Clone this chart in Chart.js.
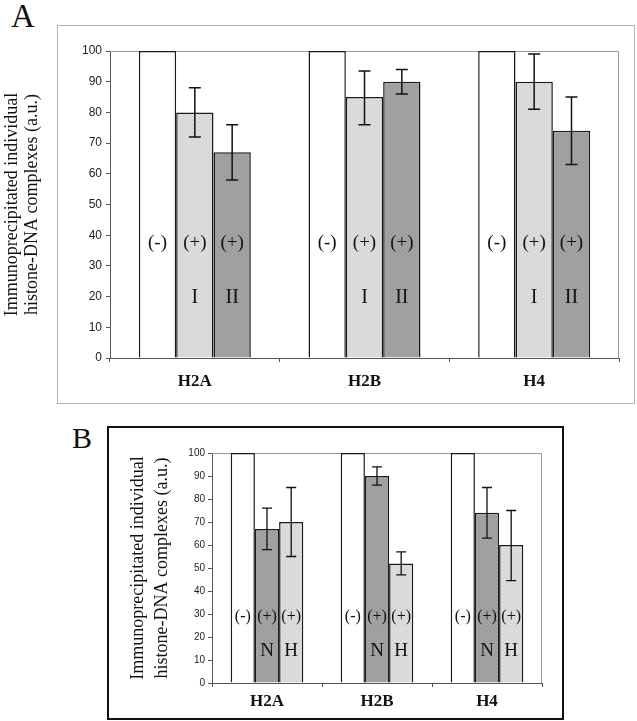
<!DOCTYPE html>
<html>
<head>
<meta charset="utf-8">
<script src="https://cdn.jsdelivr.net/npm/chart.js@4.4.0/dist/chart.umd.min.js"></script>
<style>
  body { margin: 0; background: #fff; }
  #page { position: relative; width: 637px; height: 721px; overflow: hidden; background: #fff; }
  .letter { position: absolute; font-family: 'Liberation Serif', 'Times New Roman', serif; line-height: 1; color: #111; }
  #boxA { position: absolute; left: 57px; top: 25px; width: 578px; height: 379px; border: 1px solid #b4b4b4; box-sizing: border-box; }
  #boxB { position: absolute; left: 107px; top: 426px; width: 457px; height: 294px; border: 2px solid #111; box-sizing: border-box; }
  canvas { position: absolute; left: 0; }
</style>
</head>
<body>
<div id="page">
  <div id="boxA"></div>
  <div id="boxB"></div>
  <div class="letter" style="left:11px; top:0px; font-size:33px;">A</div>
  <div class="letter" style="left:72px; top:423px; font-size:30px;">B</div>
  <canvas id="chartA" width="637" height="410" style="top:0px"></canvas>
  <canvas id="chartB" width="637" height="301" style="top:420px"></canvas>
</div>
<script>
// histones on the x axis
const categories = ['H2A', 'H2B', 'H4'];
const yTitle = ['Immunoprecipitated individual', 'histone-DNA complexes (a.u.)'];

// panel A: control (-), form I (+), form II (+)
const aControl = [100, 100, 100];
const aFormI = [80, 85, 90];
const aFormILow = [72, 76, 81];
const aFormIHigh = [88, 93.5, 99];
const aFormII = [67, 90, 74];
const aFormIILow = [58, 86, 63];
const aFormIIHigh = [76, 94, 85];

// panel B: control (-), N (+), H (+)
const bControl = [100, 100, 100];
const bN = [67, 90, 74];
const bNLow = [58, 86, 63];
const bNHigh = [76, 94, 85];
const bH = [70, 52, 60];
const bHLow = [55, 47, 44.5];
const bHHigh = [85, 57, 75];

const serif = "'Liberation Serif', 'Times New Roman', serif";
const sans = "'Liberation Sans', Arial, sans-serif";

// halftone-ish fill like the scanned figure
function speckle(ctx, base, dark, light) {
  const c = document.createElement('canvas');
  c.width = 4; c.height = 4;
  const g = c.getContext('2d');
  g.fillStyle = base; g.fillRect(0, 0, 4, 4);
  g.fillStyle = dark; g.fillRect(0, 0, 1, 1); g.fillRect(2, 2, 1, 1);
  g.fillStyle = light; g.fillRect(2, 0, 1, 1); g.fillRect(0, 2, 1, 1);
  return ctx.createPattern(c, 'repeat');
}

// error bars, in-bar labels and the grey plot frame
const barExtras = {
  id: 'barExtras',
  beforeDatasetsDraw(chart, args, opts) {
    const { ctx, chartArea: a } = chart;
    ctx.save();
    ctx.strokeStyle = '#9a9a9a';
    ctx.lineWidth = 1;
    ctx.beginPath();
    ctx.moveTo(a.left, a.top + 0.5);
    ctx.lineTo(a.right - 0.5, a.top + 0.5);
    ctx.lineTo(a.right - 0.5, a.bottom);
    ctx.stroke();
    ctx.restore();
  },
  afterDatasetsDraw(chart, args, opts) {
    const ctx = chart.ctx;
    const y = chart.scales.y;
    ctx.save();
    chart.data.datasets.forEach((ds, di) => {
      const meta = chart.getDatasetMeta(di);
      meta.data.forEach((bar, i) => {
        if (ds.errLow) {
          const top = y.getPixelForValue(ds.errHigh[i]);
          const bot = y.getPixelForValue(ds.errLow[i]);
          ctx.strokeStyle = '#111';
          ctx.lineWidth = opts.errWidth;
          ctx.beginPath();
          ctx.moveTo(bar.x, top); ctx.lineTo(bar.x, bot);
          ctx.moveTo(bar.x - opts.cap, top); ctx.lineTo(bar.x + opts.cap, top);
          ctx.moveTo(bar.x - opts.cap, bot); ctx.lineTo(bar.x + opts.cap, bot);
          ctx.stroke();
        }
        ctx.fillStyle = '#111';
        ctx.textAlign = 'center';
        ctx.textBaseline = 'middle';
        ctx.font = opts.signFont;
        ctx.fillText(ds.sign, bar.x, y.getPixelForValue(opts.signAt));
        if (ds.form) {
          ctx.font = opts.formFont;
          ctx.fillText(ds.form, bar.x, y.getPixelForValue(opts.formAt));
        }
      });
    });
    ctx.restore();
  }
};

function makeChart(id, datasets, o) {
  const ctx = document.getElementById(id).getContext('2d');
  return new Chart(ctx, {
    type: 'bar',
    data: { labels: categories, datasets: datasets },
    plugins: [barExtras],
    options: {
      responsive: false,
      animation: false,
      layout: { padding: o.padding },
      datasets: { bar: { categoryPercentage: 0.66, barPercentage: 1.0, borderWidth: 1.5, borderColor: '#1a1a1a' } },
      plugins: {
        legend: { display: false },
        tooltip: { enabled: false },
        barExtras: o.extras
      },
      scales: {
        x: {
          afterFit: s => { s.height = o.xHeight; },
          grid: { drawOnChartArea: false, offset: true, tickLength: 4, color: '#555' },
          border: { color: '#555', width: 1 },
          ticks: { color: '#111', padding: o.xPad, font: { family: serif, size: 17, weight: 'bold' } }
        },
        y: {
          min: 0, max: 100,
          afterFit: s => { s.width = o.yWidth; },
          grid: { drawOnChartArea: false, tickLength: 4, color: '#555' },
          border: { color: '#555', width: 1 },
          ticks: { stepSize: 10, color: '#222', padding: o.yPad, font: { family: sans, size: o.tickSize } },
          title: {
            display: true, text: yTitle, color: '#111',
            font: { family: serif, size: 18, lineHeight: o.titleLine },
            padding: { top: o.titlePad, bottom: 0 }
          }
        }
      }
    }
  });
}

const ctxA = document.getElementById('chartA').getContext('2d');
const ctxB = document.getElementById('chartB').getContext('2d');
const lightA = speckle(ctxA, '#dadada', '#cecece', '#e6e6e6');
const darkA = speckle(ctxA, '#a0a0a0', '#939393', '#adadad');
const lightB = speckle(ctxB, '#dadada', '#cecece', '#e6e6e6');
const darkB = speckle(ctxB, '#a0a0a0', '#939393', '#adadad');

makeChart('chartA', [
  { data: aControl, backgroundColor: '#ffffff', sign: '(-)', form: '' },
  { data: aFormI, backgroundColor: lightA, sign: '(+)', form: 'I', errLow: aFormILow, errHigh: aFormIHigh },
  { data: aFormII, backgroundColor: darkA, sign: '(+)', form: 'II', errLow: aFormIILow, errHigh: aFormIIHigh }
], {
  padding: { top: 51, right: 18, left: 0, bottom: 0 },
  xHeight: 52, yWidth: 110, xPad: 9, yPad: 4, tickSize: 12,
  titleLine: '20px', titlePad: 2,
  extras: { errWidth: 1.5, cap: 6, signAt: 37.5, formAt: 19.5,
            signFont: '19px ' + serif, formFont: '20px ' + serif }
});

makeChart('chartB', [
  { data: bControl, backgroundColor: '#ffffff', sign: '(-)', form: '' },
  { data: bN, backgroundColor: darkB, sign: '(+)', form: 'N', errLow: bNLow, errHigh: bNHigh },
  { data: bH, backgroundColor: lightB, sign: '(+)', form: 'H', errLow: bHLow, errHigh: bHHigh }
], {
  padding: { top: 33, right: 95, left: 0, bottom: 0 },
  xHeight: 38, yWidth: 212, xPad: 4, yPad: 3, tickSize: 10,
  titleLine: '24px', titlePad: 126,
  extras: { errWidth: 1.3, cap: 5, signAt: 29, formAt: 14,
            signFont: '16px ' + serif, formFont: '19px ' + serif }
});
</script>
</body>
</html>
